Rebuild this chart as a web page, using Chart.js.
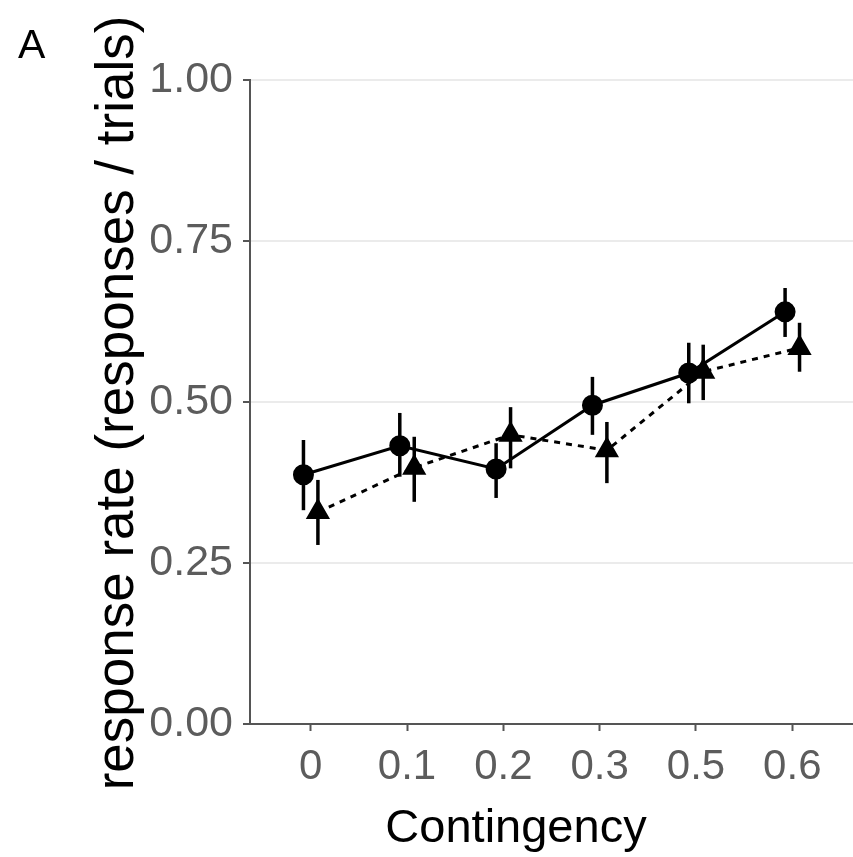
<!DOCTYPE html>
<html>
<head>
<meta charset="utf-8">
<script src="https://cdn.jsdelivr.net/npm/chart.js@4"></script>
<style>
  html, body { margin: 0; padding: 0; background: #fff; }
  #wrap { width: 853px; height: 857px; }
</style>
</head>
<body>
<div id="wrap"><canvas id="chart0" width="853" height="857"></canvas></div>
<script>
// contingency levels on the x axis
const categories = ["0", "0.1", "0.2", "0.3", "0.5", "0.6"];
const yTicks = [0, 0.25, 0.5, 0.75, 1.0];

// circle series (solid line)
const circleMean = [0.387, 0.432, 0.396, 0.495, 0.545, 0.640];
const circleLow  = [0.332, 0.384, 0.351, 0.449, 0.498, 0.601];
const circleHigh = [0.441, 0.483, 0.436, 0.539, 0.592, 0.677];

// triangle series (dashed line)
const triMean = [0.329, 0.398, 0.449, 0.425, 0.547, 0.584];
const triLow  = [0.278, 0.345, 0.397, 0.374, 0.503, 0.547];
const triHigh = [0.379, 0.446, 0.492, 0.469, 0.589, 0.623];

const dodge = 0.075;
const fontFam = "'Liberation Sans', Arial, Helvetica, sans-serif";

function toPoints(vals, shift) {
    return vals.map((v, i) => ({ x: i + shift, y: v }));
}

// draws the vertical error bars using the chart scales
const errorBars = {
    id: "errorBars",
    beforeDatasetsDraw(chart) {
        const ctx = chart.ctx;
        const xs = chart.scales.x;
        const ys = chart.scales.y;
        chart.data.datasets.forEach((ds) => {
            ctx.save();
            ctx.strokeStyle = "#000";
            ctx.lineWidth = 3.5;
            ds.data.forEach((p, i) => {
                const px = xs.getPixelForValue(p.x);
                ctx.beginPath();
                ctx.moveTo(px, ys.getPixelForValue(ds.errLow[i]));
                ctx.lineTo(px, ys.getPixelForValue(ds.errHigh[i]));
                ctx.stroke();
            });
            ctx.restore();
        });
    }
};

// panel letter and axis titles
const labels = {
    id: "labels",
    afterDraw(chart) {
        const ctx = chart.ctx;
        ctx.save();
        ctx.fillStyle = "#000";
        ctx.textBaseline = "alphabetic";

        ctx.font = "41px " + fontFam;
        ctx.textAlign = "left";
        ctx.fillText("A", 18, 58);

        ctx.font = "47px " + fontFam;
        ctx.textAlign = "center";
        ctx.fillText("Contingency", 516, 842);

        ctx.translate(133, 403);
        ctx.rotate(-Math.PI / 2);
        ctx.font = "53px " + fontFam;
        ctx.fillText("response rate (responses / trials)", 0, 0);
        ctx.restore();
    }
};

const ctx = document.getElementById("chart0").getContext("2d");
window.chart = new Chart(ctx, {
    type: "line",
    data: {
        datasets: [
            {
                label: "circle",
                data: toPoints(circleMean, -dodge),
                errLow: circleLow,
                errHigh: circleHigh,
                borderColor: "#000",
                backgroundColor: "#000",
                borderWidth: 3,
                pointStyle: "circle",
                pointRadius: 9,
                pointHoverRadius: 9,
                tension: 0,
            },
            {
                label: "triangle",
                data: toPoints(triMean, dodge),
                errLow: triLow,
                errHigh: triHigh,
                borderColor: "#000",
                backgroundColor: "#000",
                borderWidth: 3,
                borderDash: [6, 6],
                pointStyle: "triangle",
                pointRadius: 11,
                pointHoverRadius: 11,
                tension: 0,
            },
        ],
    },
    options: {
        responsive: false,
        animation: false,
        layout: {
            autoPadding: false,
            padding: { top: 80, right: 0, left: 0, bottom: 0 },
        },
        plugins: {
            legend: { display: false },
            tooltip: { enabled: false },
        },
        scales: {
            x: {
                type: "linear",
                min: -0.63,
                max: 5.63,
                afterBuildTicks(scale) {
                    scale.ticks = categories.map((_, i) => ({ value: i }));
                },
                afterFit(scale) {
                    scale.height = 133;
                    scale.paddingLeft = 0;
                    scale.paddingRight = 0;
                },
                ticks: {
                    callback: (v) => categories[v],
                    color: "#5c5c5c",
                    font: { family: fontFam, size: 42 },
                    padding: 11,
                    maxRotation: 0,
                },
                grid: {
                    drawOnChartArea: false,
                    drawTicks: true,
                    tickLength: 7,
                    tickColor: "#555",
                    tickWidth: 2,
                },
                border: { color: "#555", width: 2 },
            },
            y: {
                min: 0,
                max: 1,
                afterBuildTicks(scale) {
                    scale.ticks = yTicks.map((v) => ({ value: v }));
                },
                afterFit(scale) { scale.width = 250; },
                ticks: {
                    callback: (v) => Number(v).toFixed(2),
                    color: "#5c5c5c",
                    font: { family: fontFam, size: 43 },
                    padding: 10,
                },
                grid: {
                    color: "#ebebeb",
                    lineWidth: 2,
                    drawTicks: true,
                    tickLength: 7,
                    tickColor: "#555",
                    tickWidth: 2,
                },
                border: { color: "#555", width: 2 },
            },
        },
    },
    plugins: [errorBars, labels],
});
</script>
</body>
</html>
